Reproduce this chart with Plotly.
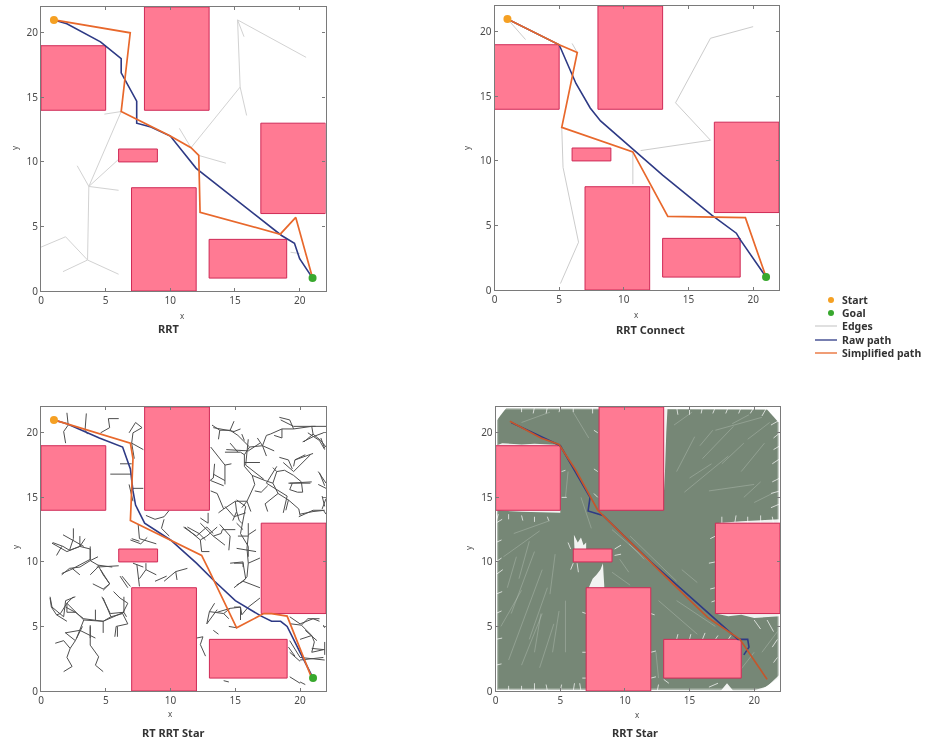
import plotly.graph_objects as go

# ---------- obstacles (x0, y0, x1, y1), same in every panel ----------
obstacles = [(0, 14, 5, 19), (8, 14, 13, 22), (17, 6, 22, 13),
             (6, 10, 9, 11), (7, 0, 12, 8), (13, 1, 19, 4)]

titles = ["RRT", "RRT Connect", "RT RRT Star", "RRT Star"]
legend_labels = ["Start", "Goal", "Edges", "Raw path", "Simplified path"]
start = (1, 21)
goal = (21, 1)

# ---------- RRT ----------
rrt_raw = [(1, 21), (2, 20.7), (4.6, 19.3), (6.2, 18), (6.2, 16.9), (7.4, 14.7), (7.4, 13), (8.5, 12.7),
           (10, 12), (12, 9.5), (18.6, 4.3), (19.6, 3.7), (20, 2.5), (21, 1)]
rrt_simple = [(1, 21), (6.9, 20), (6.2, 13.9), (10, 12), (11.6, 11.1), (12.2, 10.5), (12.3, 6.1),
              (18.5, 4.4), (19.7, 5.7), (20.4, 3.2), (21, 1)]
rrt_edges = [
    [(15.2, 21), (15.3, 17.5), (15.4, 15.8), (11.6, 11.1), (10.7, 12.6)],
    [(15.2, 21), (20.5, 18.1)], [(15.2, 21), (15.7, 19.7)], [(15.4, 15.8), (15.9, 13.6)],
    [(12.2, 10.5), (14.3, 9.9)], [(6.2, 13.9), (4.9, 13.7)], [(6.2, 13.9), (3.7, 8.1), (2.8, 9.7)],
    [(3.7, 8.1), (6, 7.8)], [(3.7, 8.1), (6, 10.2)], [(3.7, 8.1), (3.6, 2.4), (1.7, 1.5)],
    [(3.6, 2.4), (6, 1.3)], [(3.6, 2.4), (1.9, 4.2), (0, 3.4)], [(19.3, 3), (20, 2.9)],
]

# ---------- RRT Connect ----------
connect_raw = [(1, 21), (5, 19), (6.3, 16), (7.4, 14.1), (8.2, 13.1), (10.5, 11.1), (13, 8.9), (16.8, 5.8),
               (18.7, 4.4), (19, 3.9), (21, 1)]
connect_simple = [(1, 21), (5, 19), (6.4, 18.4), (5.2, 12.6), (10.7, 10.7), (13.4, 5.7), (19.4, 5.6), (21, 1)]
connect_edges = [
    [(1, 21), (2.4, 19.4)], [(6, 19.1), (6.4, 18.4)],
    [(5.2, 12.6), (5.3, 9.5), (6.5, 3.7), (5.1, 0.5)], [(10.7, 10.7), (10.7, 8.2)],
    [(11.3, 10.8), (16.7, 11.6), (14, 14.5), (16.7, 19.5), (20, 20.4)],
]

# ---------- RT RRT Star ----------
rt_raw = [(1, 21), (2, 20.7), (4.5, 19.6), (6.3, 18.9), (6.9, 17.2), (7.1, 15.5), (7.3, 14.4), (8, 13), (10, 11.7),
          (12, 9.9), (13.4, 8.5), (15, 7), (17, 5.8), (17.8, 5.4), (18.5, 5.4), (19, 5), (20, 3), (21, 1)]
rt_simple = [(1, 21), (6.9, 19.2), (7.1, 18), (6.9, 13.2), (12.4, 10.5), (12.9, 9.5), (15.1, 4.9),
             (17.2, 6), (17.8, 6), (19, 5.8), (20.9, 1)]
rt_edges = [
    [(2, 21.55), (2.1, 20.6), (1.75, 20.1), (1.9, 19.2)], [(3.5, 21.5), (3.4, 20.2), (3.6, 19.9)],
    [(5.2, 21.1), (6, 21.1)], [(5.2, 21.1), (5.3, 20.4), (4.6, 20)],
    [(6.8, 20), (7.3, 20.8), (7.8, 20.4), (7.1, 20), (7, 19.2), (7.9, 18.7)], [(7, 19.2), (7.2, 18)],
    [(5.35, 16.8), (7, 16.8)], [(6.1, 17.6), (7, 17.6)], [(7, 15.7), (7.9, 15.7)], [(6.8, 16), (7.1, 14.7)],
    [(8.1, 13.6), (8.8, 13.3), (9.5, 13.5), (9.9, 14)], [(9.5, 13.3), (9.3, 12.6), (9.9, 12)],
    [(6.9, 11.7), (7.7, 11.4), (8.2, 11.9)], [(11.3, 12.7), (12.2, 12.2), (12.7, 11.7)],
    [(13.2, 20.6), (13.8, 20.2), (14.6, 20.2), (15.2, 19.8), (16.1, 18.9), (15.7, 18.3), (15.7, 17.4),
     (16.3, 16.7), (17.3, 16.3), (17.9, 16.1)],
    [(14.6, 20.2), (14.9, 20.9)], [(13.8, 20.2), (13.7, 19.5)], [(16.1, 18.9), (17.1, 19)],
    [(17.1, 19), (16.7, 19.6)], [(17.1, 19), (17.4, 18.2)], [(17.1, 19), (18, 18.6)], [(15.7, 19.4), (15.5, 19.9)],
    [(17.1, 19), (17.4, 19.8), (17.7, 19.9), (18.6, 20.3), (19.5, 20.3), (20.9, 20.5), (22, 20.5)],
    [(18.6, 20.3), (18.6, 19.6), (18, 19.8)], [(19.5, 20.3), (19.2, 21), (18.4, 21.2)],
    [(20.9, 20.5), (21, 19.9), (20.3, 19.3)], [(21, 19.9), (21.6, 19.4), (22, 18.9)],
    [(14.2, 18.5), (15.4, 18.5), (15.7, 18.3)], [(14.6, 19.2), (15.2, 18.5)], [(15.7, 17.7), (16.9, 17.7)],
    [(13.1, 18.9), (13.9, 17.9), (14.2, 17.5), (14.7, 17.6)], [(14.2, 17.5), (14.2, 16)],
    [(13.3, 16.8), (14.2, 16.3)], [(13.1, 16.3), (14.1, 15.9)], [(13.4, 17.6), (13.3, 16.5), (12.9, 16.2)],
    [(16.3, 16.7), (16.5, 16), (15.9, 14.7), (15, 14.7), (14.1, 14.1), (13.6, 15.3), (13.1, 15.5)],
    [(14.1, 14.1), (13.7, 13.8)], [(15, 14.7), (15.1, 13.9), (15.3, 13.2), (15.5, 13)],
    [(15.1, 13.9), (14.8, 13.2)], [(15.9, 14.7), (16.2, 13.9)], [(15.9, 14.7), (15.5, 14.2)],
    [(16.5, 15.5), (17, 15.4), (17.5, 15.9)], [(17.9, 16.1), (18.2, 17), (17.9, 17.3)],
    [(18.2, 17), (18.8, 17.1), (19.5, 16.7), (20.1, 16.2)], [(19.1, 16.1), (20.8, 16.1)],
    [(20.1, 16.2), (20.2, 15.4), (19.8, 15.4), (19.2, 15.6), (19.4, 16.1)],
    [(17.9, 16.1), (18.3, 15.3), (19.1, 14.8), (19.9, 14.1), (20, 13.6)], [(19.1, 14.8), (18.9, 14)],
    [(18.3, 15.3), (17.3, 14.5), (17.5, 13.9)], [(19.9, 13.5), (20.4, 13.7), (21, 14), (21.8, 14), (22, 13.7)],
    [(19.5, 17.4), (19.6, 17.9), (20.4, 18.3)], [(19.6, 17.9), (20.2, 18.1), (21, 18.4)],
    [(18.4, 18.1), (19.1, 17.9), (19.4, 17.2)], [(21.4, 17), (22, 16.1)], [(21.4, 16), (22, 15.7)],
    [(21.7, 14.1), (22, 14.9)], [(20.2, 19.3), (21, 19.7), (21.8, 20)], [(21.6, 19.6), (21.9, 18.8)],
    [(16, 13), (16, 12), (15.9, 11.05), (16, 9.9), (15.9, 8.85), (15.6, 8.5), (16.9, 8)], [(15.2, 12), (16, 12)],
    [(15.1, 11.05), (16.6, 10.8)], [(16, 9.9), (16.9, 10.3)], [(14.6, 9.9), (15.6, 10), (15.6, 9.6)],
    [(15.6, 8.5), (15.1, 8.2)], [(16.6, 12.5), (16, 12.1)], [(12.3, 13), (12.8, 12.5), (13.3, 12), (14.2, 11.3)],
    [(13.6, 12.7), (12.8, 12), (12.3, 11.7), (12.4, 10.8), (13, 10.8)], [(11.1, 12.7), (12.3, 11.7)],
    [(13.3, 12), (13.9, 12.2), (14, 12.5), (15, 12.5)], [(15.1, 13), (15.6, 12.5)],
    [(12.8, 5.2), (13, 6.15), (14.1, 6), (14.5, 5.6)], [(13, 6.15), (13.4, 6.8)],
    [(14.1, 6), (14.6, 6.4), (15.4, 6.5), (15.5, 5.9), (16, 6.5), (16.9, 7.2)], [(13.3, 4.7), (13.7, 4.4)],
    [(14.5, 5), (15.1, 4.9)], [(12, 4.1), (12.5, 4.2), (12.3, 3.6), (12.7, 2.7)],
    [(19.3, 5.2), (20.1, 5.1), (20.6, 5.6), (21.5, 5.6)], [(20.1, 5.1), (20.9, 4.3), (20, 4)],
    [(20.9, 4.3), (21.1, 3.8), (20.9, 3), (21.8, 3.2)], [(21.8, 5.1), (21.9, 4.9)], [(21.9, 3.8), (21.9, 2.8)],
    [(20, 2.4), (21.8, 2.6)], [(19.1, 3.4), (19.6, 2.7)], [(19.2, 3), (20, 2.3)], [(14.1, 0.8), (14.5, 0.7)],
    [(19.2, 1.1), (20, 0.6)], [(20, 0.7), (20.4, 0.5)],
    [(0.9, 11.5), (1.7, 11.2), (2.2, 10.9), (3, 11.2), (3.4, 11.8)], [(2.5, 12.6), (2.5, 11.8), (2.2, 10.9)],
    [(1.7, 12.1), (2.6, 11.6), (3.3, 11.2)], [(1.2, 10.5), (1.6, 11.2)],
    [(3, 11.2), (3.8, 11), (3.8, 10.1), (4.4, 9.75), (5.5, 9.6)], [(3.8, 10.1), (4.4, 10.4)],
    [(3.8, 10.1), (3, 9.6), (2.2, 9.5), (1.6, 9)], [(2.4, 9.5), (3, 9)],
    [(4.4, 9.75), (4.8, 9), (5.3, 8.3), (4.8, 7.9), (4, 8.3)], [(4.4, 9.6), (3.8, 9)],
    [(0.7, 7.2), (0.8, 6.5), (1.2, 5.9), (1.5, 6), (2, 6.8), (2.5, 7.3)],
    [(2, 6.8), (2.7, 6.1), (3.3, 5.5), (4.8, 5.4), (5.4, 5.75), (6.3, 6), (6.7, 6.8)], [(1.2, 5.9), (2, 5.4)],
    [(2, 6.8), (2, 6.1), (2.7, 6.1)], [(3.3, 5.5), (3, 4.7), (2.75, 4.1)], [(3, 4.7), (1.85, 4.5)],
    [(3, 4.7), (4.2, 4.1)], [(3.8, 5.1), (3.8, 4.1)], [(4.2, 6.3), (4.2, 5.5)], [(4.8, 5.4), (4.8, 4.5)],
    [(5.4, 5.75), (4.8, 7.2)], [(6.7, 6.8), (6.1, 7.2), (5.6, 7.7)], [(6.1, 8.9), (6.7, 8)],
    [(6.3, 6), (6.7, 5.2), (5.8, 5), (5.7, 4.2)],
    [(1.1, 3.7), (1.75, 3.9), (2.25, 3.3), (2, 2.6), (2.4, 1.9), (1.75, 1.5)], [(3.2, 5), (2.65, 3.9), (2.25, 3.3)],
    [(1.9, 4.5), (2.65, 3.9)], [(3.8, 5), (3.8, 3.55), (4.45, 2.65), (4.2, 2), (4.8, 1.5)],
    [(7.4, 9.8), (7.5, 8.7), (7.6, 8.1)], [(8.1, 9.9), (8.1, 9.4), (7.6, 8.7)], [(7.1, 9.9), (7.9, 9.6)],
    [(8.1, 9.4), (8.9, 9)], [(9.5, 8.5), (10.4, 9.25), (11.3, 9.5)], [(10.4, 9.25), (10.5, 8.6)],
    [(9.7, 8.9), (8.8, 8.5)], [(6.25, 8.9), (6.9, 8.1)], [(7.5, 12.9), (7.6, 11.8), (8.9, 11.4)], [(7, 11.8), (7.6, 11.6)],
    # denser branches read from the whole-panel view
    [(13.3, 20.4), (14.9, 20.1), (15.4, 20.3)], [(14.3, 18.7), (16, 18.6), (16.9, 19.2)],
    [(16, 19.5), (15.8, 17.5), (17.2, 16.4)], [(18.2, 17.4), (17.4, 16.1), (19, 15.1), (18.7, 13.8)],
    [(19.2, 16.1), (20.9, 16.2)], [(18.7, 17.7), (19.5, 17), (20.8, 18.3)], [(20.6, 20), (21.5, 19.4), (21.9, 18.7)],
    [(18.5, 21), (19.5, 20.5), (21.2, 20.5)], [(15.1, 14.8), (15.8, 14.3), (15.4, 12.2), (16, 11.2), (16, 10.4)],
    [(14.2, 14.3), (14.9, 13.5), (15.8, 13.8)], [(11, 12.7), (12, 12), (12.8, 12.7), (13.3, 12.2)],
    [(12.3, 13.4), (12.9, 13), (12.9, 13.8)], [(13.8, 12.9), (14.6, 12), (14.5, 10.9)],
    [(14.9, 9.9), (15.6, 9.9), (15.8, 8.7), (14.9, 8)], [(20, 13.7), (21, 13.9), (21.9, 14)], [(21.7, 15.1), (21.9, 14.3)],
    [(21.5, 16.9), (21.9, 15.9)], [(19.2, 5.75), (20, 5.2), (21, 5.6), (21.5, 5.4)], [(19.2, 3.9), (20, 2.6), (21.9, 2.4)],
    [(20.9, 3.3), (21.9, 3.2)], [(20.4, 4.7), (21.3, 3.9)], [(14.9, 6.5), (15.4, 6.5), (15.4, 5.5)],
    [(13.6, 6.1), (14.6, 6.4)], [(12.8, 5.2), (13.6, 6.3)], [(0.85, 11.45), (2, 10.8), (3, 11.2), (3, 12)],
    [(3.8, 11.2), (3.8, 10.2), (2.3, 9.4), (1.6, 9.1)], [(4.3, 9.6), (6, 9.7)], [(4.6, 9.4), (5.3, 8.3), (4.8, 7.8)],
    [(0.7, 7.3), (0.85, 6.5), (1.75, 5.75), (1.9, 7), (2.65, 7.3)],
    [(1.9, 6.5), (2.65, 6.1), (3.3, 5.6), (4.8, 5.4), (6.4, 6.1), (6.6, 5.75)],
    [(4.7, 7.3), (5.35, 6), (6.4, 6.1), (6.4, 7.3)], [(5.9, 5), (5.9, 4.2)],
]

# ---------- RRT Star ----------
star_raw = [(1.2, 20.8), (5, 19), (7.3, 15), (7.15, 13.95), (8.3, 13.6), (12, 10), (18.75, 4), (19.5, 4),
            (19.6, 3.4), (19.2, 2.8)]
star_simple = [(1.1, 20.9), (3.5, 19.6), (4.9, 19.1), (6.2, 17.1), (7.9, 14), (8.3, 13.6), (13, 9), (16.4, 5.7),
               (18.9, 4), (21, 0.9)]
star_cover = [(0.1, 0.1), (20.5, 0.05), (21.9, 1), (21.9, 20.8), (21, 21.8), (0.8, 21.9), (0.1, 21)]
star_ring = [(0, 0), (22, 0), (22, 22), (0, 22), (0, 0)]
star_gaps = [
    [(6.1, 10.9), (6.05, 12.1), (6.35, 11.5), (6.6, 11.9), (6.8, 11.3), (7, 11.5), (7, 10.9)],
    [(7.2, 8), (7.5, 8.7), (7.8, 9), (8.1, 9.4), (8.3, 9.9), (8.35, 9), (8.4, 8.2), (8.4, 8)],
    [(17.4, 0), (17.9, 0.6), (18.4, 0)],
    [(19.8, 0), (21, 0.35), (22, 1.3), (22, 0)],
    [(0, 19), (0.5, 19.2), (2, 19.1), (3, 19.15), (5, 19.05), (5, 19)],
    [(13, 22), (13.3, 22), (13.2, 20), (13.1, 17), (13, 15)],
    [(17, 13), (19, 13.15), (22, 13.3), (22, 13)],
    [(17, 6), (18, 5.8), (19, 5.9), (20, 5.65), (22, 5.8), (22, 6)],
    [(0, 14), (2, 13.88), (5, 13.8), (5, 14)],
    [(22, 21.3), (21.2, 22), (22, 22)], [(0, 22), (0, 20.8), (0.4, 21.5), (0.9, 22)],
]
star_streak_x0 = [14.6, 16, 19, 14, 16.5, 17, 20, 13.8, 19.5, 1.2, 2.6, 3.4, 0.6, 1, 5.4, 1.4, 0.4, 2, 9, 10.4, 12.6, 14,
                  9, 6.6, 18.6, 20.6, 12.6, 5.4, 6, 2, 15, 17.5, 18.3, 15.8, 19.2, 3, 4.4, 1.8, 0.9, 4.2, 10.3, 14.4, 9.6]
star_streak_y0 = [15.4, 18, 17, 17, 15.5, 20.2, 14.6, 20.6, 19.5, 6, 4, 1.8, 10.4, 2.4, 3, 12.2, 5, 2, 12.5, 12, 7, 7,
                  9.2, 15, 1.2, 3, 1, 15, 21.6, 20.8, 16.5, 17.6, 20.7, 19, 15, 3, 3, 8.7, 8, 7.5, 11.4, 9.4, 10.2]
star_streak_x1 = [18, 18.4, 20.8, 15.4, 20, 20.6, 21.6, 15.2, 21.2, 3, 4, 4.5, 3.4, 3.6, 5.4, 4.2, 2, 3.6, 12.6, 14, 15.6, 17,
                  10.4, 7.4, 20, 21.8, 12.4, 5.6, 7.2, 4.2, 16.7, 19.2, 19.6, 16.8, 20.5, 3.5, 4.9, 2.6, 1.6, 4.6, 11.5, 15.6, 10.3]
star_streak_y1 = [18.2, 20.5, 19.2, 19.7, 16, 21.2, 15.4, 21.6, 20.8, 10.8, 8, 5.2, 12.4, 9.4, 7, 13.2, 7.8, 6, 9.4, 8.5, 4.4, 5,
                  8.2, 12.6, 3, 4.6, 3, 17, 19.6, 21.6, 17.6, 19.2, 21.4, 20.2, 16.2, 6, 6.2, 11.6, 10.4, 10.6, 10.2, 8.4, 9.2]
star_fringe_x0 = [0, 0, 0, 0, 0, 0, 0, 0, 22, 22, 22, 22, 22, 22, 22, 14, 15, 16, 17, 18, 19, 20, 21, 2, 3, 4, 5, 6, 7.5, 7.9, 7.9,
                  17, 17, 17, 17, 12, 12, 12, 7, 7, 7, 14, 15, 16, 17, 18, 13, 16.5, 20, 21, 21.8, 21.8, 1, 2, 3, 4, 5, 6, 6.6, 12.5,
                  6, 6.3, 5.8, 9.2, 9.2, 5.1, 5.1, 7.9, 0, 1, 2, 3, 4, 17.5, 18.5, 19.5, 20.5, 21.5]
star_fringe_y0 = [2, 4, 6, 7.5, 9, 10, 11.5, 13, 20, 19, 18, 16.5, 15.5, 14.5, 21, 22, 22, 22, 22, 22, 22, 22, 22, 22, 22, 22, 22, 22, 22, 20, 17,
                  12, 10, 8, 7, 6, 3, 1, 6, 3, 1, 4, 4, 4, 4, 4, 0.9, 0.3, 5.5, 5.5, 4, 2.6, 0, 0, 0, 0, 0, 0, 0, 0,
                  9.9, 9.9, 11, 10.5, 11, 15, 17, 15, 13, 13.7, 13.6, 13.5, 13.5, 13, 13, 13, 13, 13]
star_fringe_x1 = [0.45, 0.5, 0.45, 0.5, 0.55, 0.45, 0.45, 0.5, 21.5, 21.5, 21.4, 21.4, 21.3, 21.3, 21.3, 14.1, 15, 15.9, 16.8, 17.8, 18.8, 19.7, 20.6, 2, 2.9, 3.9, 4.9, 6, 7.5, 7.6, 7.6,
                  16.6, 16.5, 16.6, 16.7, 12.3, 12.4, 12.4, 6.7, 6.7, 6.7, 14.1, 15.1, 16.2, 17.2, 18.2, 13.4, 17.2, 20.5, 21.5, 21.4, 21.5, 1, 2, 3, 3.9, 5.1, 6.1, 6.5, 12.6,
                  5.8, 6.4, 5.6, 9.7, 9.7, 5.5, 5.4, 7.6, 0.2, 1, 2.1, 3, 4.1, 17.5, 18.6, 19.5, 20.5, 21.4]
star_fringe_y1 = [2.1, 4.1, 6.2, 7.7, 9.4, 10.3, 11.7, 13.3, 19.6, 18.7, 17.6, 16.2, 15.3, 14.2, 20.6, 21.4, 21.4, 21.5, 21.5, 21.5, 21.5, 21.5, 21.3, 21.6, 21.5, 21.5, 21.6, 21.6, 21.5, 20.2, 17.2,
                  11.8, 9.9, 7.9, 6.9, 5.9, 3.1, 1.1, 6.1, 3, 1, 4.4, 4.4, 4.5, 4.3, 4.3, 0.6, 0.6, 4.8, 4.6, 3.4, 2.2, 0.4, 0.4, 0.6, 0.5, 0.5, 0.6, 0.6, 0.5,
                  9.4, 9.2, 11.5, 10.6, 11.3, 15, 17.1, 15.3, 13.7, 13.3, 13.2, 13.1, 13.2, 13.5, 13.6, 13.5, 13.6, 13.5]

BORDER = "#7a7a7a"
TXT = "#4a4a4a"
FONT = "Noto Sans"
EDGE_COLORS = ["#d2d2d2", "#cccccc", "#4e4e4e", "#768776"]
RAW = "#2e3a85"
SIMPLE = "#e8682c"
domains = [((41, 325.5), (7, 291)), ((494.5, 779), (6, 290)), ((41, 326), (407, 691)), ((495.7, 780), (407, 691))]
title_pos = [(168, 329), (650, 329.5), (173, 732), (635, 732)]
xlabel_pos = [(182, 315), (636, 314), (170, 713), (637, 714)]
ylabel_pos = [(15, 148), (467, 148), (15, 547), (468, 548)]
W, H = 925, 740
ML, MB = 20, 20


def PX(v):
    return (v - ML) / (W - ML)


def PY(v):
    return 1 - v / (H - MB)


def flat(paths):
    xs, ys = [], []
    for p in paths:
        xs += [a for a, _ in p] + [None]
        ys += [b for _, b in p] + [None]
    return xs, ys


def xy(path):
    return [a for a, _ in path], [b for _, b in path]


def seg(x0, y0, x1, y1):
    xs, ys = [], []
    for a, b, c, d in zip(x0, y0, x1, y1):
        xs += [a, c, None]
        ys += [b, d, None]
    return xs, ys


fig = go.Figure()
panels = [(rrt_edges, rrt_raw, rrt_simple), (connect_edges, connect_raw, connect_simple),
          (rt_edges, rt_raw, rt_simple), ([], star_raw, star_simple)]
layout = {}
small = dict(family=FONT, size=8, color=TXT)
for i, ((dx, dy), (edges, raw, simple)) in enumerate(zip(domains, panels)):
    n = i + 1
    kw = dict(xaxis=f"x{n}", yaxis=f"y{n}", showlegend=False, hoverinfo="skip")
    axcommon = dict(range=[0, 22], tick0=0, dtick=5, ticks="inside", ticklen=3, tickcolor=BORDER, tickwidth=1,
                    showgrid=False, zeroline=False, showline=True, linecolor=BORDER, linewidth=1.2, mirror="ticks",
                    tickfont=dict(family=FONT, size=10, color=TXT), automargin=False)
    layout[f"xaxis{n}"] = dict(domain=[PX(dx[0]), PX(dx[1])], anchor=f"y{n}", **axcommon)
    layout[f"yaxis{n}"] = dict(domain=[PY(dy[1]), PY(dy[0])], anchor=f"x{n}", **axcommon)
    if i == 3:
        cx, cy = xy(star_cover)
        fig.add_trace(go.Scatter(x=cx, y=cy, fill="toself", fillcolor=EDGE_COLORS[3], mode="none", **kw))
        gx, gy = flat(star_gaps)
        fig.add_trace(go.Scatter(x=gx, y=gy, fill="toself", fillcolor="rgba(255,255,255,0.9)", mode="none", **kw))
        rgx, rgy = xy(star_ring)
        fig.add_trace(go.Scatter(x=rgx, y=rgy, mode="lines", line=dict(color="rgba(255,255,255,0.4)", width=5), **kw))
        ex, ey = seg(star_fringe_x0, star_fringe_y0, star_fringe_x1, star_fringe_y1)
        fig.add_trace(go.Scatter(x=ex, y=ey, mode="lines", line=dict(color="rgba(255,255,255,0.7)", width=1), **kw))
        sx, sy = seg(star_streak_x0, star_streak_y0, star_streak_x1, star_streak_y1)
        fig.add_trace(go.Scatter(x=sx, y=sy, mode="lines", line=dict(color="rgba(205,215,205,0.4)", width=0.8), **kw))
    else:
        ex, ey = flat(edges)
        fig.add_trace(go.Scatter(x=ex, y=ey, mode="lines", line=dict(color=EDGE_COLORS[i], width=1), **kw))
    for (x0, y0, x1, y1) in obstacles:
        fig.add_trace(go.Scatter(x=[x0, x1, x1, x0, x0], y=[y0, y0, y1, y1, y0], mode="lines", fill="toself",
                                 fillcolor="#ff7a93", line=dict(color="#cf2a56", width=1), **kw))
    rx, ry = xy(raw)
    fig.add_trace(go.Scatter(x=rx, y=ry, mode="lines", line=dict(color=RAW, width=1.6), **kw))
    sx, sy = xy(simple)
    fig.add_trace(go.Scatter(x=sx, y=sy, mode="lines",
                             line=dict(color=SIMPLE if i < 3 else "#c4562c", width=1.7), **kw))
    if i < 3:
        fig.add_trace(go.Scatter(x=[start[0]], y=[start[1]], mode="markers",
                                 marker=dict(color="#f5a023", size=8), **kw))
        fig.add_trace(go.Scatter(x=[goal[0]], y=[goal[1]], mode="markers",
                                 marker=dict(color="#38a82e", size=8), **kw))
    fig.add_annotation(text=f"<b>{titles[i]}</b>", xref="paper", yref="paper", x=PX(title_pos[i][0]), y=PY(title_pos[i][1]),
                       showarrow=False, xanchor="center", yanchor="middle", font=dict(family=FONT, size=11, color="#333333"))
    fig.add_annotation(text="x", xref="paper", yref="paper", x=PX(xlabel_pos[i][0]), y=PY(xlabel_pos[i][1]),
                       showarrow=False, xanchor="center", yanchor="middle", font=small)
    fig.add_annotation(text="y", xref="paper", yref="paper", x=PX(ylabel_pos[i][0]), y=PY(ylabel_pos[i][1]),
                       showarrow=False, xanchor="center", yanchor="middle", textangle=-90, font=small)

# legend block
rows = [300, 313, 326, 340, 353]
for lab, yy, kind, col in zip(legend_labels, rows, ["m", "m", "l", "l", "l"],
                              ["#f5a023", "#38a82e", "#d0d0d0", RAW, SIMPLE]):
    if kind == "m":
        fig.add_shape(type="circle", xref="paper", yref="paper", x0=PX(828), x1=PX(834),
                      y0=PY(yy + 3), y1=PY(yy - 3), fillcolor=col, line=dict(width=0))
    else:
        fig.add_shape(type="line", xref="paper", yref="paper", x0=PX(815), x1=PX(837), y0=PY(yy), y1=PY(yy),
                      line=dict(color=col, width=1.3))
    fig.add_annotation(text=f"<b>{lab}</b>", xref="paper", yref="paper", x=PX(839.5), y=PY(yy), xanchor="left",
                       yanchor="middle", showarrow=False, font=dict(family=FONT, size=10.5, color="#333333"))

fig.update_layout(width=W, height=H, autosize=False, margin=dict(l=ML, r=0, t=0, b=MB), paper_bgcolor="white",
                  plot_bgcolor="white", showlegend=False, **layout)
fig.write_html("out.html", config={"displayModeBar": False},
               post_script="document.body.style.margin='0';"
                           "document.querySelectorAll('.js-plotly-plot').forEach(function(e){e.style.filter='blur(0.45px)';});")
